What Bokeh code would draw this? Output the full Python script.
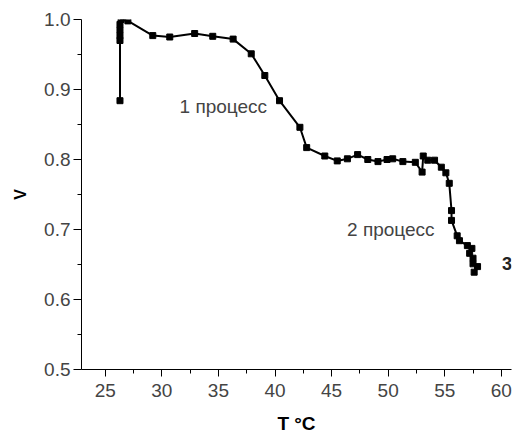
from bokeh.plotting import figure
from bokeh.embed import file_html
from bokeh.resources import INLINE
from bokeh.models import Range1d, FixedTicker, Label, CustomJSTickFormatter

# data
temp = [26.3, 26.3, 26.3, 26.3, 26.3, 26.4, 27.0, 29.2, 30.7, 32.9, 34.5, 36.3,
        37.9, 39.1, 40.4, 42.2, 42.8, 44.4, 45.5, 46.4, 47.3, 48.2, 49.1, 49.9,
        50.4, 51.3, 52.4, 53.0, 53.1, 53.5, 54.1, 54.7, 55.1, 55.4, 55.6, 55.6,
        56.1, 56.3, 57.0, 57.4, 57.2, 57.5, 57.5, 57.9, 57.6]
vol = [0.884, 0.970, 0.977, 0.985, 0.993, 1.000, 0.998, 0.977, 0.975, 0.980, 0.976, 0.972,
       0.951, 0.920, 0.884, 0.846, 0.817, 0.805, 0.798, 0.801, 0.807, 0.800, 0.797, 0.800,
       0.801, 0.797, 0.796, 0.782, 0.805, 0.799, 0.799, 0.789, 0.781, 0.766, 0.727, 0.713,
       0.691, 0.684, 0.677, 0.673, 0.666, 0.659, 0.651, 0.647, 0.639]

x_ticks = [25, 30, 35, 40, 45, 50, 55, 60]
y_ticks = [0.5, 0.6, 0.7, 0.8, 0.9, 1.0]

FONT = "Liberation Sans"

p = figure(width=516, height=441, output_backend="svg", toolbar_location=None,
           x_range=Range1d(22.9, 60.9), y_range=Range1d(0.5, 1.0),
           min_border_left=81, min_border_right=5, min_border_top=19, min_border_bottom=72)
p.outline_line_color = None
p.xgrid.visible = False
p.ygrid.visible = False
p.background_fill_color = "white"
p.border_fill_color = "white"

p.line(temp, vol, line_color="black", line_width=2)
p.scatter(temp, vol, marker="square", size=6, fill_color="black", line_color="black")

for ax in (p.xaxis[0], p.yaxis[0]):
    ax.axis_line_color = "black"
    ax.major_tick_line_color = "black"
    ax.minor_tick_line_color = "black"
    ax.major_tick_in = 0
    ax.minor_tick_in = 0
    ax.major_label_text_font = FONT
    ax.major_label_text_font_size = "19px"
    ax.major_label_text_color = "#444444"
    ax.axis_label_text_font = FONT
    ax.axis_label_text_font_style = "bold"
    ax.axis_label_text_color = "black"

p.xaxis[0].major_tick_out = 7
p.xaxis[0].minor_tick_out = 4
p.yaxis[0].major_tick_out = 8
p.yaxis[0].minor_tick_out = 4

p.xaxis[0].ticker = FixedTicker(ticks=x_ticks, minor_ticks=[22.5 + 5 * i for i in range(9)])
p.yaxis[0].ticker = FixedTicker(ticks=y_ticks, minor_ticks=[0.55, 0.65, 0.75, 0.85, 0.95])
p.yaxis[0].formatter = CustomJSTickFormatter(code="return tick.toFixed(1);")
p.xaxis[0].axis_label = "T °C"
p.yaxis[0].axis_label = "V"
p.xaxis[0].axis_label_text_font_size = "19px"
p.yaxis[0].axis_label_text_font_size = "16px"
p.xaxis[0].major_label_standoff = 7
p.yaxis[0].major_label_standoff = 3
p.xaxis[0].axis_label_standoff = 13
p.yaxis[0].axis_label_standoff = 12

p.add_layout(Label(x=39.3, y=0.876, text="1 процесс", text_align="right", text_baseline="middle",
                   text_font=FONT, text_font_size="19px", text_color="#444444"))
p.add_layout(Label(x=54.1, y=0.700, text="2 процесс", text_align="right", text_baseline="middle",
                   text_font=FONT, text_font_size="19px", text_color="#444444"))
p.add_layout(Label(x=60.5, y=0.651, text="3", text_align="center", text_baseline="middle",
                   text_font=FONT, text_font_size="18px", text_font_style="bold", text_color="#222222"))

open("out.html", "w").write(file_html(p, INLINE))
